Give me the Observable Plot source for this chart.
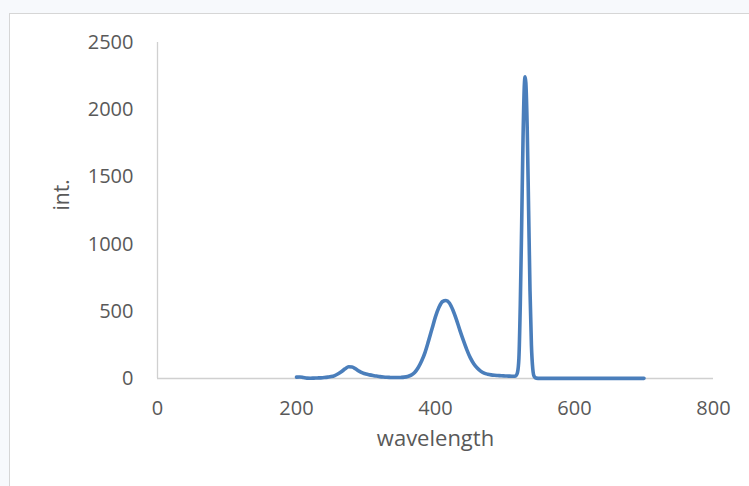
<!DOCTYPE html>
<html>
<head>
<meta charset="utf-8">
<script src="https://cdn.jsdelivr.net/npm/d3@7"></script>
<script src="https://cdn.jsdelivr.net/npm/@observablehq/plot@0.6"></script>
<style>
  html, body { margin: 0; padding: 0; background: #ffffff; }
  #wrap { position: relative; width: 749px; height: 486px; overflow: hidden; background: #f7f9fc; }
  #frame { position: absolute; left: 9px; top: 13px; width: 760px; height: 500px; background: #ffffff; border: 1px solid #d6d6d6; box-sizing: border-box; }
  #chart { position: absolute; left: 0; top: 0; }
</style>
</head>
<body>
<div id="wrap"><div id="frame"></div><div id="chart"></div></div>
<script>
const wavelength = [200,205,210,215,220,225,230,235,240,245,250,255,260,265,270,275,280,285,290,295,300,305,310,315,320,325,330,335,340,345,350,355,360,365,370,375,380,385,390,395,400,405,410,415,420,425,430,435,440,445,450,455,460,465,470,475,480,485,490,495,500,505,510,514,516,518,520,522,524,526,528,529,530,532,534,536,538,540,542,545,550,560,580,600,620,640,660,680,700];
const intensity  = [10,11,7,3,2,3,4,5,7,10,14,22,35,52,72,87,86,72,55,42,33,27,22,18,14,11,9,8,7,7,8,10,15,25,45,80,130,195,280,370,460,530,572,580,562,510,440,360,285,215,155,110,78,55,40,32,27,24,22,20,19,18,17,17,22,45,150,550,1150,1800,2200,2245,2200,1850,1250,650,250,70,15,3,1,1,1,1,1,1,1,1,1];
const xTicks = [0,200,400,600,800];
const yTicks = [0,500,1000,1500,2000,2500];
const xTitle = "wavelength";
const yTitle = "int.";

const data = wavelength.map((w, i) => ({w, v: intensity[i]}));
const textColor = "#595959";
const chart = Plot.plot({
  width: 749,
  height: 486,
  marginLeft: 157,
  marginRight: 36,
  marginTop: 42,
  marginBottom: 108,
  style: {fontFamily: "'Open Sans', sans-serif", fontSize: "20px", color: textColor, background: "transparent"},
  x: {domain: [0, 800]},
  y: {domain: [0, 2500]},
  marks: [
    Plot.ruleX([0], {stroke: "#d0d0d0", strokeWidth: 1.3}),
    Plot.ruleY([0], {stroke: "#d0d0d0", strokeWidth: 1.6}),
    Plot.axisY({ticks: yTicks, tickSize: 0, tickPadding: 24, label: null, tickFormat: d => String(d), fill: textColor}),
    Plot.axisX({ticks: xTicks, tickSize: 0, tickPadding: 22, label: null, tickFormat: d => String(d), fill: textColor}),
    Plot.line(data, {x: "w", y: "v", stroke: "#4a7ebb", strokeWidth: 3.6, curve: "monotone-x", strokeLinejoin: "round", strokeLinecap: "round"}),
    Plot.text([yTitle], {frameAnchor: "left", dx: -95, rotate: -90, fill: textColor, fontSize: 21}),
    Plot.text([xTitle], {frameAnchor: "bottom", dy: 67, fill: textColor, fontSize: 22})
  ]
});
document.getElementById("chart").appendChild(chart);
</script>
</body>
</html>
